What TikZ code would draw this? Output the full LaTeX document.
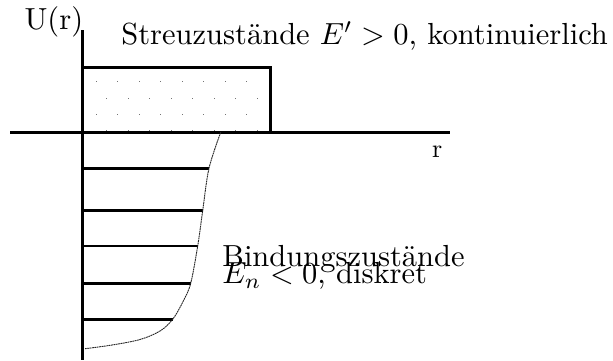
\documentclass[tikz,border=0pt]{standalone}
\begin{document}
\begin{tikzpicture}[x=1pt,y=-1pt,
  axis/.style={line width=3pt},
  level/.style={line width=2.7pt},
  txt/.style={inner sep=0pt, scale=3.05, transform shape, font=\fontsize{10}{12}\selectfont},
  smalltxt/.style={inner sep=0pt, scale=2.6, transform shape, font=\fontsize{10}{12}\selectfont},
  curve/.style={line width=0.9pt, dash pattern=on 1.8pt off 0.6pt, black!85}]
\useasboundingbox (0,0) rectangle (613,360);
% dotted filling of the scattering band
\foreach \r [count=\i] in {81,98,114,130}{
  \pgfmathsetmacro{\off}{mod(\i,2)==1 ? 96 : 106.7}
  \foreach \k in {0,...,8}{
    \pgfmathsetmacro{\xx}{\off+21.5*\k}
    \ifdim\xx pt<268pt \fill[black!55] (\xx-0.5,\r-0.5) rectangle (\xx+0.5,\r+0.5);\fi
  }
}
% axes
\coordinate (ytop) at (82.3,30);
\coordinate (ybot) at (82.3,360);
\coordinate (xl) at (10,132.3);
\coordinate (xr) at (450,132.3);
\draw[axis] (ytop) -- (ybot);
\draw[axis] (xl) -- (xr);
% scattering box
\coordinate (b1) at (82.3,132.3);
\coordinate (b2) at (270,67.5);
\draw[axis] (b1) |- (b2) -- (b2 |- b1);
% bound levels
\foreach \y/\xe [count=\n] in {168.3/209,210.7/202.7,246/197.7,283.3/190.7,319.3/172.7}{
  \coordinate (la\n) at (82.3,\y);
  \coordinate (lb\n) at (\xe,\y);
  \draw[level] (la\n) -- (lb\n);
}
% potential curve
\draw[curve] plot[smooth, tension=0.55] coordinates {(220.7,132.3) (209,168.3) (202.7,210.7) (197.7,246) (190.7,283.3) (183.3,301) (172.7,319.3) (160,331) (140,339.5) (112,345) (85,348.7)};
% labels
\node[txt, anchor=base west] (U) at (24,29.3) {U(r)};
\node[txt, anchor=base west] (streu) at (120.8,44.3) {Streuzustände $E'>0$, kontinuierlich};
\node[smalltxt, anchor=base west] (r) at (431.5,157) {r};
\node[txt, anchor=base west] (bind) at (221.8,266) {Bindungszustände};
\node[txt, anchor=base west] (en) at (221.8,283.5) {$E_n<0$, diskret};
\end{tikzpicture}
\end{document}
